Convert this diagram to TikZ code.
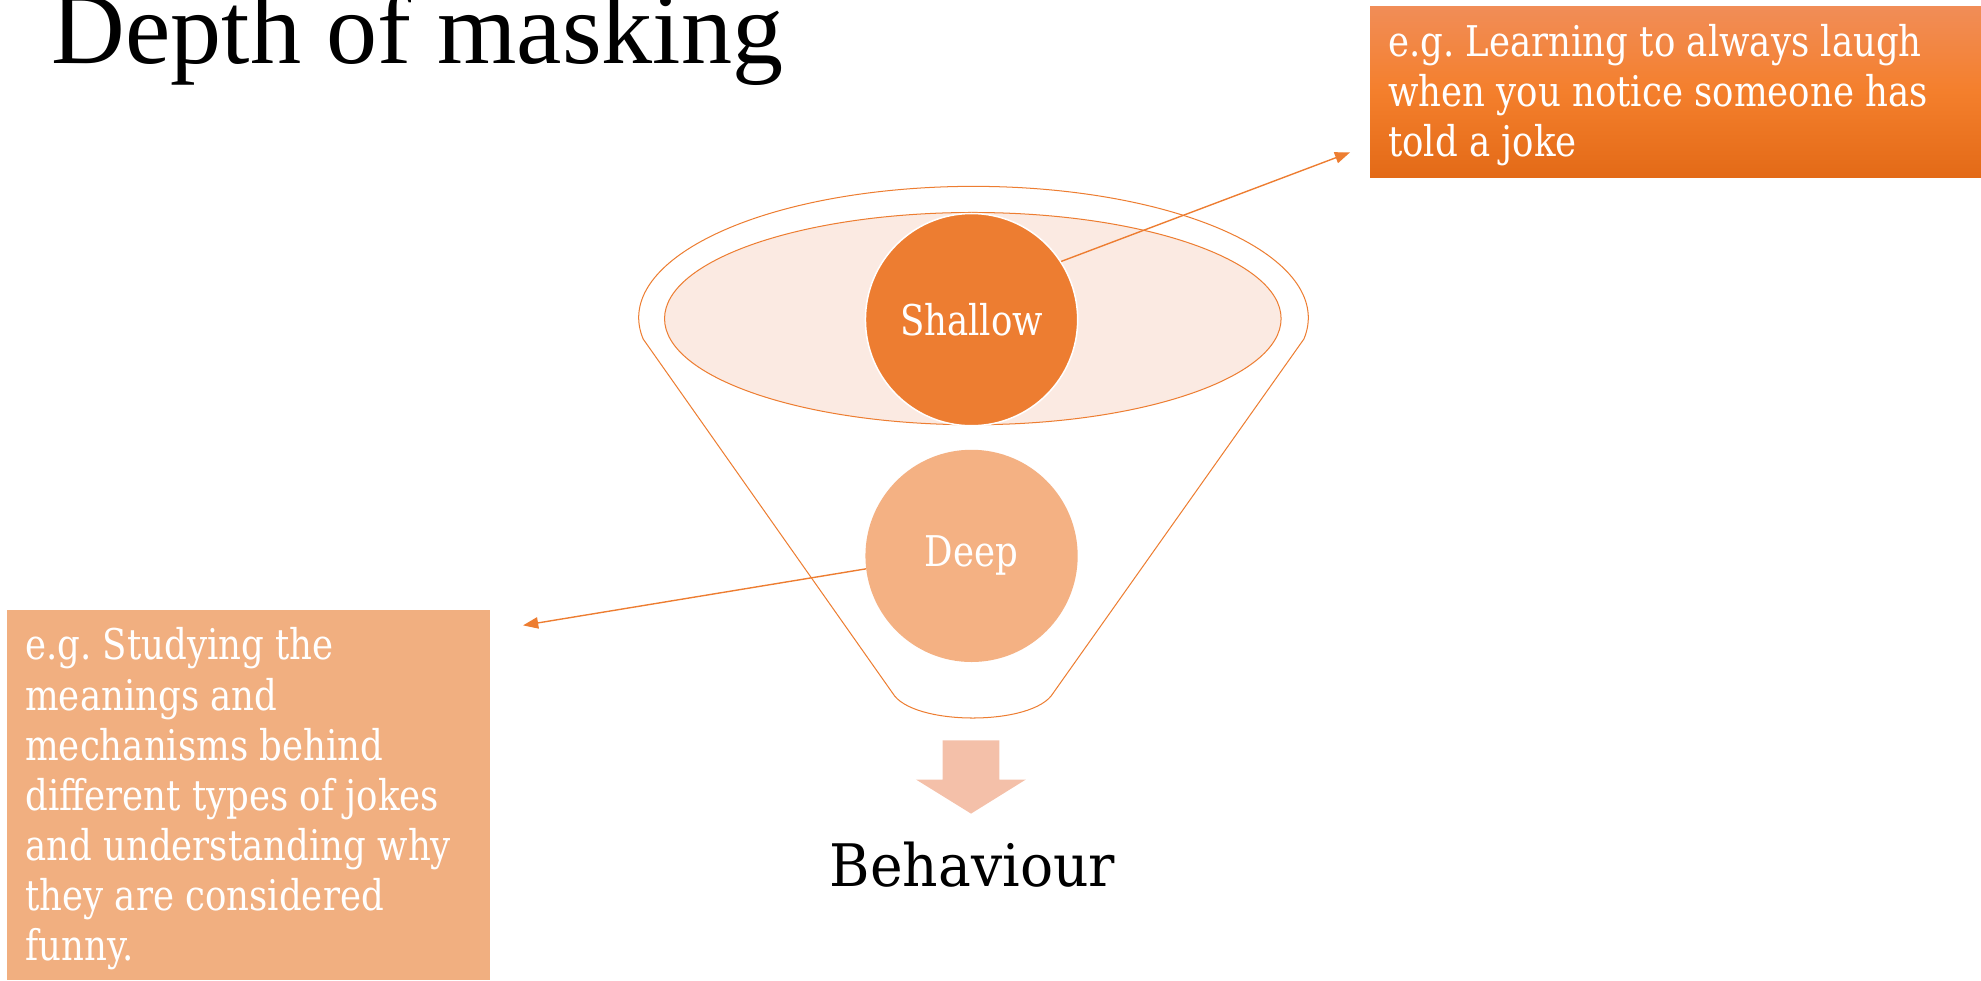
\documentclass[tikz,border=0pt]{standalone}
\usepackage{fontspec}
\setmainfont{DejaVu Serif}
\newfontfamily\titlefont{Liberation Serif}
\newfontfamily\bodyfont{DejaVu Serif}[FakeStretch=0.84]
\newfontfamily\behavfont{DejaVu Serif}[FakeStretch=0.94]
\usetikzlibrary{arrows.meta,shapes.geometric}
\definecolor{accent}{HTML}{ED7D31}
\definecolor{deepc}{HTML}{F4B183}
\definecolor{rimfill}{HTML}{FBEAE2}
\definecolor{boxtop}{HTML}{F18D57}
\definecolor{boxmid}{HTML}{F47F2C}
\definecolor{boxbot}{HTML}{E36A17}
\definecolor{boxlight}{HTML}{F1AF80}
\definecolor{blockc}{HTML}{F4C0A9}
\frenchspacing
\tikzset{
  outline/.style={draw=accent, line width=0.8pt},
  ball/.style={circle, minimum size=168pt, inner sep=0pt, text=white,
    font=\bodyfont\fontsize{33.5}{39.7}\selectfont},
  bodytext/.style={inner sep=0pt, text=white, anchor=base west,
    font=\bodyfont\fontsize{33.5}{39.7}\selectfont\frenchspacing},
  connector/.style={draw=accent, line width=1.1pt,
    -{Triangle[length=12pt,width=9pt]}},
  panel/.style={rectangle, inner sep=0pt, draw=none}
}
\begin{document}
\begin{tikzpicture}[x=1pt,y=1pt]
\useasboundingbox (0,0) rectangle (1568,776);
\begin{scope}
\clip (0,0) rectangle (1568,776);
\node[anchor=base west, inner sep=0pt, font=\titlefont\fontsize{80.8}{80}\selectfont] (title) at (40.9,725.9) {Depth of masking};
\end{scope}

% funnel body
\path[outline, fill=white] (509.1,507.6)
  arc[start angle=189.35, end angle=-9.35, x radius=265, y radius=104]
  -- (833.6,227.4) .. controls (818,201.1) and (722,201.1) .. (706.5,227.4)
  -- cycle;
% inner rim
\node[ellipse, outline, fill=rimfill, minimum width=488pt, minimum height=168pt, inner sep=0pt] (rim) at (770,523.8) {};
% balls
\node[ball, fill=deepc] (deep) at (769,336) {Deep};
\node[ball, fill=accent, draw=white, line width=1.2pt] (shallow) at (769,523) {Shallow};

% panels
\node[panel, minimum width=483.6pt, minimum height=135.4pt,
  top color=boxtop, bottom color=boxbot, middle color=boxmid] (shbox) at (1326.2,703.3) {};
\node[panel, fill=boxlight, minimum width=382pt, minimum height=293.2pt] (dpbox) at (196.8,146.6) {};

\node[bodytext] (shtext) at (1098.5,731.2) {\vtop{\hbox{e.g. Learning to always laugh}\hbox{when you notice someone has}\hbox{told a joke}}};
\node[bodytext] (dptext) at (19.8,253.6) {\vtop{\hbox{e.g. Studying the}\hbox{meanings and}\hbox{mechanisms behind}\hbox{different types of jokes}\hbox{and understanding why}\hbox{they are considered}\hbox{funny.}}};

% connectors
\coordinate (shtip) at (1068.6,655.4);
\coordinate (dptip) at (414,281);
\draw[connector] (shallow.33.5) -- (shtip);
\draw[connector] (deep.187.5) -- (dptip);

% block arrow
\fill[blockc] (746,190) -- (791,190) -- (791,159) -- (812,159) -- (768.6,132) -- (725,159) -- (746,159) -- cycle;
\node[anchor=base, inner sep=0pt, font=\behavfont\fontsize{46.4}{50}\selectfont] (behav) at (769.7,74.2) {Behaviour};
\end{tikzpicture}
\end{document}
